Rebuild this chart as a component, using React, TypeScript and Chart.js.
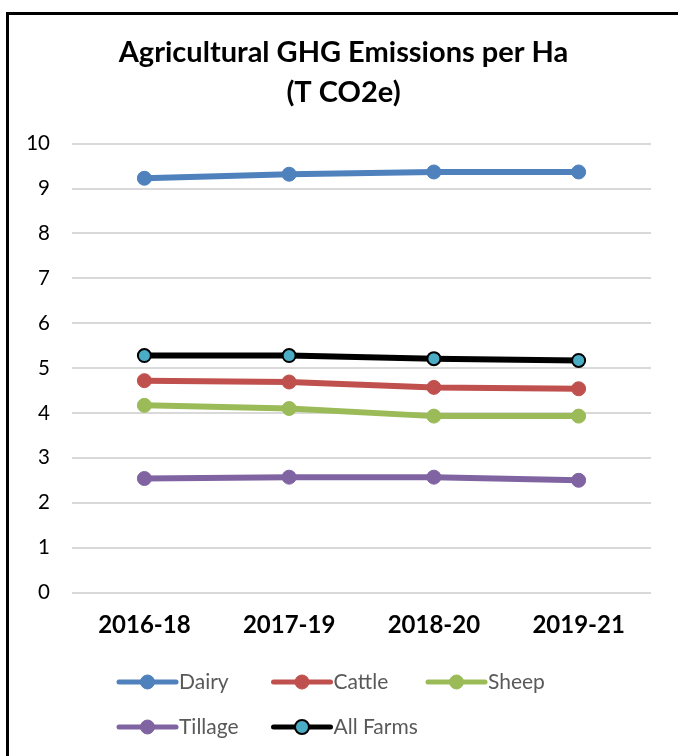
import React, { useEffect, useRef } from "react";
import { Chart, registerables } from "chart.js";

Chart.register(...registerables);

// Three-year rolling periods
const periods = ["2016-18", "2017-19", "2018-20", "2019-21"];

// Agricultural GHG emissions per hectare (T CO2e) by farm system
const dairy = [9.23, 9.32, 9.37, 9.37];
const cattle = [4.72, 4.69, 4.57, 4.54];
const sheep = [4.17, 4.1, 3.93, 3.93];
const tillage = [2.54, 2.57, 2.57, 2.5];
const allFarms = [5.28, 5.28, 5.21, 5.17];

const yTicks = [0, 1, 2, 3, 4, 5, 6, 7, 8, 9, 10];

const titleLines = ["Agricultural GHG Emissions per Ha", "(T CO2e)"];

const FONT = "Lato, 'Open Sans', sans-serif";

const W = 678;
const H = 756;

// Page frame: black rules along the top and left edges, white fill
const framePlugin = {
  id: "frame",
  beforeDraw(chart: any) {
    const ctx = chart.ctx;
    ctx.save();
    ctx.fillStyle = "#ffffff";
    ctx.fillRect(0, 0, chart.width, chart.height);
    ctx.strokeStyle = "#000000";
    ctx.lineWidth = 3;
    ctx.beginPath();
    ctx.moveTo(7.5, chart.height);
    ctx.lineTo(7.5, 13.5);
    ctx.lineTo(chart.width, 13.5);
    ctx.stroke();
    ctx.restore();
  },
};

// Two-line heading centred on the framed page rather than the plot
const headingPlugin = {
  id: "heading",
  afterDraw(chart: any) {
    const ctx = chart.ctx;
    ctx.save();
    ctx.fillStyle = "#000000";
    ctx.font = `bold 29px ${FONT}`;
    ctx.textAlign = "center";
    ctx.textBaseline = "middle";
    titleLines.forEach((line, i) => {
      ctx.fillText(line, 343.5, 53 + i * 40);
    });
    ctx.restore();
  },
};

// Legend laid out on a fixed three-column grid below the axis
const gridLegendPlugin = {
  id: "gridLegend",
  afterDraw(chart: any) {
    const ctx = chart.ctx;
    const x0 = 119;
    const colStep = 154.5;
    const y0 = 682;
    const rowStep = 45;
    const lineLen = 57;
    ctx.save();
    chart.data.datasets.forEach((ds: any, i: number) => {
      const col = i % 3;
      const row = Math.floor(i / 3);
      const x = x0 + col * colStep;
      const y = y0 + row * rowStep;
      ctx.strokeStyle = ds.borderColor;
      ctx.lineWidth = 5;
      ctx.lineCap = "round";
      ctx.beginPath();
      ctx.moveTo(x, y);
      ctx.lineTo(x + lineLen, y);
      ctx.stroke();
      ctx.fillStyle = ds.pointBackgroundColor;
      ctx.strokeStyle = ds.pointBorderColor;
      ctx.lineWidth = ds.pointBorderWidth;
      ctx.beginPath();
      ctx.arc(x + lineLen / 2, y, 7, 0, Math.PI * 2);
      ctx.fill();
      ctx.stroke();
      ctx.fillStyle = "#595959";
      ctx.font = `21px ${FONT}`;
      ctx.textBaseline = "middle";
      ctx.textAlign = "left";
      ctx.fillText(ds.label, x + lineLen + 3, y);
    });
    ctx.restore();
  },
};

function series(label: string, data: number[], color: string) {
  return {
    label,
    data,
    borderColor: color,
    backgroundColor: color,
    borderWidth: 6,
    pointRadius: 7,
    pointBackgroundColor: color,
    pointBorderColor: color,
    pointBorderWidth: 1,
    tension: 0,
  };
}

export default function App() {
  const canvasRef = useRef<HTMLCanvasElement | null>(null);

  useEffect(() => {
    if (!canvasRef.current) return;
    const chart = new Chart(canvasRef.current, {
      type: "line",
      data: {
        labels: periods,
        datasets: [
          series("Dairy", dairy, "#4F81BD"),
          series("Cattle", cattle, "#C0504D"),
          series("Sheep", sheep, "#9BBB59"),
          series("Tillage", tillage, "#8064A2"),
          {
            label: "All Farms",
            data: allFarms,
            borderColor: "#000000",
            backgroundColor: "#000000",
            borderWidth: 6,
            pointRadius: 6.5,
            pointBackgroundColor: "#4BACC6",
            pointBorderColor: "#000000",
            pointBorderWidth: 2,
            tension: 0,
          },
        ],
      },
      options: {
        responsive: false,
        animation: false,
        devicePixelRatio: 1,
        layout: { padding: { left: 0, right: 27, top: 143.7, bottom: 0 } },
        plugins: {
          legend: { display: false },
          tooltip: { enabled: false },
          title: { display: false },
        },
        scales: {
          x: {
            offset: true,
            grid: { display: false, drawTicks: false },
            border: { display: false },
            ticks: {
              color: "#000000",
              font: { family: FONT, size: 24, weight: "bold" },
              padding: 18,
              maxRotation: 0,
            },
            afterFit(scale: any) {
              scale.height = 163.5;
            },
          },
          y: {
            min: 0,
            max: 10,
            afterBuildTicks(scale: any) {
              scale.ticks = yTicks.map((v) => ({ value: v }));
            },
            grid: { color: "#D9D9D9", lineWidth: 2, drawTicks: false },
            border: { display: false },
            ticks: {
              color: "#000000",
              font: { family: FONT, size: 20.5 },
              padding: 22,
            },
            afterFit(scale: any) {
              scale.width = 72;
            },
          },
        },
      },
      plugins: [framePlugin, headingPlugin, gridLegendPlugin],
    });
    return () => chart.destroy();
  }, []);

  return (
    <div style={{ position: "absolute", left: 0, top: 0, width: W, height: H, overflow: "hidden", background: "#fff" }}>
      <canvas ref={canvasRef} width={W} height={H} style={{ display: "block" }} />
    </div>
  );
}
